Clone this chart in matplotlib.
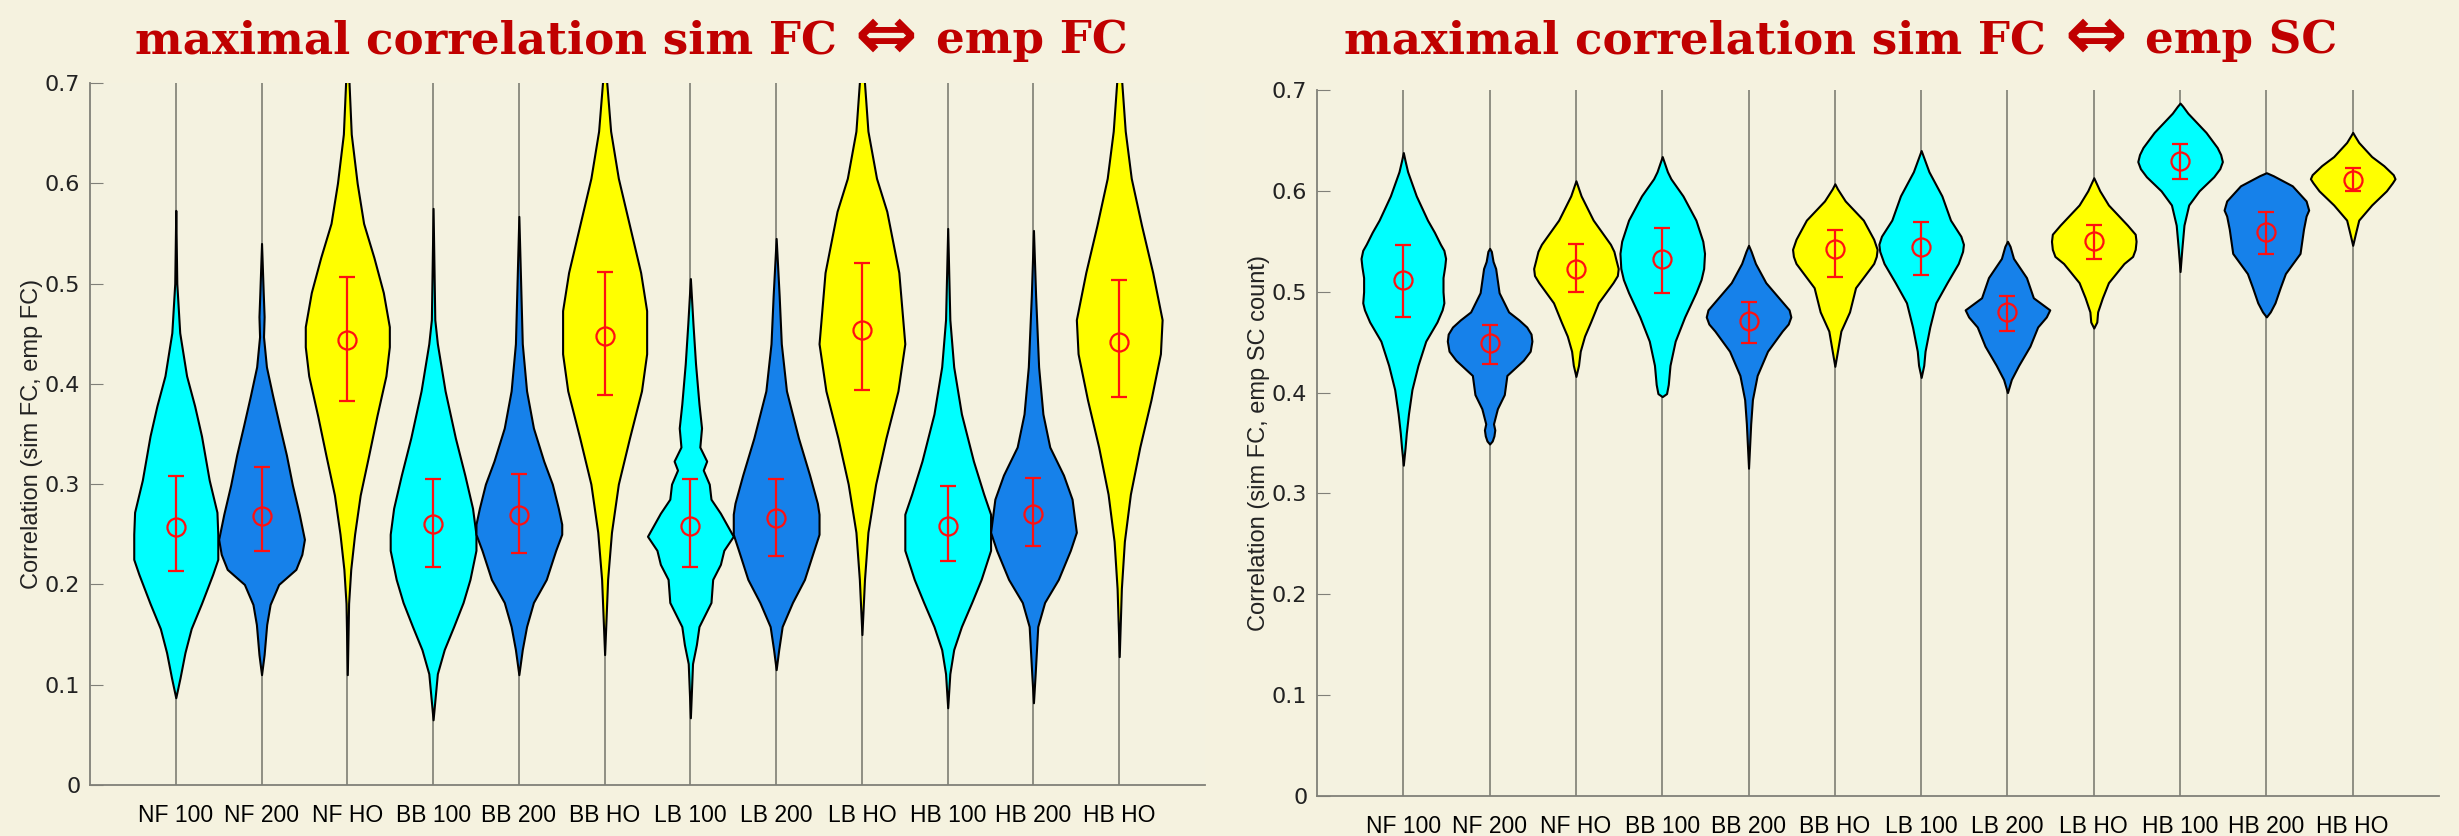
import numpy as np
import matplotlib
matplotlib.use("Agg")
import matplotlib.pyplot as plt

labels = ["NF 100", "NF 200", "NF HO", "BB 100", "BB 200", "BB HO",
          "LB 100", "LB 200", "LB HO", "HB 100", "HB 200", "HB HO"]
fill_cols = ["#00ffff", "#1681ea", "#ffff00"] * 4

##### sim FC <-> emp FC : violin outlines (y, half width in x units) #####
fc_y = [
    [0.087, 0.107, 0.132, 0.156, 0.181, 0.21, 0.225, 0.25, 0.272, 0.304, 0.348, 0.378, 0.408, 0.451, 0.50, 0.573],
    [0.11, 0.13, 0.16, 0.18, 0.20, 0.215, 0.23, 0.245, 0.27, 0.299, 0.329, 0.358, 0.388, 0.417, 0.447, 0.467, 0.49, 0.54],
    [0.11, 0.181, 0.215, 0.25, 0.289, 0.329, 0.368, 0.408, 0.437, 0.457, 0.491, 0.526, 0.56, 0.60, 0.649, 0.70, 0.72],
    [0.065, 0.111, 0.135, 0.158, 0.182, 0.205, 0.234, 0.25, 0.276, 0.309, 0.346, 0.393, 0.44, 0.464, 0.575],
    [0.11, 0.135, 0.158, 0.182, 0.205, 0.234, 0.25, 0.26, 0.276, 0.30, 0.323, 0.356, 0.393, 0.44, 0.567],
    [0.13, 0.205, 0.252, 0.30, 0.346, 0.393, 0.43, 0.473, 0.511, 0.558, 0.605, 0.652, 0.70, 0.72],
    [0.067, 0.121, 0.14, 0.158, 0.182, 0.205, 0.22, 0.234, 0.248, 0.271, 0.285, 0.30, 0.314, 0.323, 0.337, 0.356, 0.38, 0.42, 0.46, 0.505],
    [0.115, 0.135, 0.158, 0.182, 0.205, 0.229, 0.25, 0.27, 0.281, 0.309, 0.346, 0.393, 0.44, 0.488, 0.545],
    [0.15, 0.205, 0.252, 0.30, 0.346, 0.393, 0.44, 0.511, 0.572, 0.605, 0.652, 0.70, 0.72],
    [0.077, 0.111, 0.135, 0.158, 0.182, 0.205, 0.234, 0.27, 0.29, 0.323, 0.37, 0.417, 0.464, 0.555],
    [0.082, 0.111, 0.158, 0.182, 0.205, 0.234, 0.252, 0.285, 0.309, 0.337, 0.37, 0.417, 0.488, 0.553],
    [0.128, 0.196, 0.243, 0.29, 0.337, 0.384, 0.43, 0.464, 0.511, 0.558, 0.605, 0.652, 0.70, 0.72],
]
fc_w = [
    [0.0, 0.05, 0.107, 0.18, 0.30, 0.43, 0.49, 0.49, 0.48, 0.39, 0.30, 0.22, 0.126, 0.046, 0.012, 0.0],
    [0.0, 0.03, 0.06, 0.10, 0.20, 0.40, 0.47, 0.50, 0.44, 0.36, 0.29, 0.21, 0.13, 0.057, 0.023, 0.03, 0.02, 0.0],
    [0.0, 0.015, 0.04, 0.085, 0.15, 0.25, 0.345, 0.45, 0.49, 0.49, 0.42, 0.31, 0.19, 0.115, 0.046, 0.02, 0.012],
    [0.0, 0.05, 0.13, 0.24, 0.35, 0.43, 0.50, 0.50, 0.46, 0.37, 0.26, 0.14, 0.05, 0.02, 0.0],
    [0.0, 0.04, 0.09, 0.17, 0.32, 0.43, 0.50, 0.50, 0.46, 0.39, 0.29, 0.17, 0.09, 0.04, 0.0],
    [0.0, 0.035, 0.08, 0.16, 0.29, 0.43, 0.49, 0.49, 0.42, 0.29, 0.16, 0.07, 0.025, 0.015],
    [0.0, 0.025, 0.07, 0.10, 0.24, 0.26, 0.35, 0.39, 0.50, 0.35, 0.24, 0.22, 0.15, 0.19, 0.11, 0.13, 0.10, 0.06, 0.03, 0.0],
    [0.0, 0.03, 0.07, 0.19, 0.33, 0.42, 0.50, 0.50, 0.48, 0.39, 0.26, 0.12, 0.06, 0.035, 0.0],
    [0.0, 0.03, 0.07, 0.16, 0.28, 0.42, 0.50, 0.43, 0.29, 0.17, 0.07, 0.03, 0.015],
    [0.0, 0.025, 0.07, 0.16, 0.28, 0.39, 0.50, 0.50, 0.42, 0.30, 0.16, 0.07, 0.025, 0.0],
    [0.0, 0.02, 0.05, 0.13, 0.29, 0.43, 0.50, 0.45, 0.35, 0.19, 0.11, 0.06, 0.025, 0.0],
    [0.0, 0.025, 0.06, 0.13, 0.24, 0.37, 0.48, 0.50, 0.39, 0.26, 0.14, 0.07, 0.03, 0.015],
]
fc_mean = [0.257, 0.268, 0.444, 0.260, 0.269, 0.448, 0.258, 0.266, 0.454, 0.258, 0.270, 0.442]
fc_lo = [0.213, 0.233, 0.383, 0.217, 0.231, 0.389, 0.217, 0.228, 0.394, 0.223, 0.238, 0.387]
fc_hi = [0.308, 0.317, 0.507, 0.305, 0.310, 0.512, 0.305, 0.305, 0.521, 0.298, 0.306, 0.504]

##### sim FC <-> emp SC #####
sc_y = [
    [0.328, 0.345, 0.36, 0.379, 0.403, 0.427, 0.451, 0.47, 0.482, 0.489, 0.50, 0.514, 0.525, 0.533, 0.541, 0.547, 0.559, 0.571, 0.595, 0.619, 0.63, 0.638],
    [0.349, 0.352, 0.357, 0.363, 0.369, 0.384, 0.398, 0.417, 0.432, 0.441, 0.451, 0.458, 0.465, 0.472, 0.48, 0.499, 0.523, 0.53, 0.54, 0.543],
    [0.416, 0.427, 0.441, 0.456, 0.47, 0.489, 0.509, 0.516, 0.523, 0.533, 0.54, 0.547, 0.571, 0.595, 0.605, 0.61],
    [0.396, 0.399, 0.408, 0.427, 0.451, 0.475, 0.499, 0.512, 0.523, 0.538, 0.55, 0.571, 0.595, 0.612, 0.619, 0.629, 0.634],
    [0.325, 0.369, 0.393, 0.417, 0.441, 0.461, 0.468, 0.475, 0.482, 0.489, 0.509, 0.528, 0.54, 0.546],
    [0.426, 0.441, 0.461, 0.48, 0.504, 0.52, 0.528, 0.535, 0.542, 0.552, 0.571, 0.59, 0.602, 0.607],
    [0.415, 0.427, 0.441, 0.465, 0.489, 0.509, 0.528, 0.54, 0.547, 0.555, 0.571, 0.595, 0.619, 0.64],
    [0.40, 0.413, 0.427, 0.446, 0.465, 0.475, 0.482, 0.494, 0.514, 0.533, 0.545, 0.55],
    [0.464, 0.47, 0.48, 0.494, 0.509, 0.528, 0.535, 0.542, 0.55, 0.557, 0.566, 0.586, 0.60, 0.613],
    [0.52, 0.542, 0.566, 0.586, 0.60, 0.614, 0.622, 0.629, 0.636, 0.643, 0.658, 0.677, 0.684, 0.687],
    [0.475, 0.48, 0.489, 0.504, 0.518, 0.538, 0.562, 0.575, 0.581, 0.59, 0.605, 0.615, 0.618],
    [0.546, 0.557, 0.571, 0.586, 0.60, 0.608, 0.612, 0.616, 0.625, 0.634, 0.648, 0.655, 0.658],
]
sc_w = [
    [0.0, 0.02, 0.035, 0.06, 0.10, 0.17, 0.26, 0.39, 0.45, 0.47, 0.46, 0.46, 0.48, 0.49, 0.47, 0.43, 0.36, 0.28, 0.15, 0.05, 0.02, 0.0],
    [0.0, 0.03, 0.05, 0.06, 0.045, 0.09, 0.17, 0.20, 0.39, 0.47, 0.49, 0.48, 0.43, 0.34, 0.22, 0.11, 0.07, 0.04, 0.02, 0.0],
    [0.0, 0.03, 0.05, 0.10, 0.17, 0.26, 0.43, 0.48, 0.49, 0.46, 0.44, 0.40, 0.20, 0.06, 0.02, 0.0],
    [0.0, 0.05, 0.07, 0.09, 0.15, 0.26, 0.39, 0.45, 0.48, 0.49, 0.47, 0.39, 0.24, 0.10, 0.06, 0.02, 0.0],
    [0.0, 0.025, 0.045, 0.10, 0.22, 0.39, 0.46, 0.49, 0.47, 0.40, 0.20, 0.08, 0.03, 0.0],
    [0.0, 0.03, 0.07, 0.17, 0.24, 0.38, 0.45, 0.48, 0.49, 0.45, 0.33, 0.12, 0.03, 0.0],
    [0.0, 0.03, 0.045, 0.10, 0.17, 0.30, 0.43, 0.48, 0.49, 0.46, 0.34, 0.24, 0.09, 0.0],
    [0.0, 0.045, 0.13, 0.26, 0.35, 0.45, 0.49, 0.30, 0.22, 0.07, 0.03, 0.0],
    [0.0, 0.035, 0.045, 0.10, 0.17, 0.35, 0.45, 0.48, 0.49, 0.48, 0.39, 0.17, 0.07, 0.0],
    [0.0, 0.02, 0.045, 0.10, 0.22, 0.39, 0.46, 0.49, 0.47, 0.43, 0.30, 0.09, 0.03, 0.0],
    [0.0, 0.045, 0.10, 0.16, 0.22, 0.39, 0.43, 0.46, 0.49, 0.46, 0.30, 0.08, 0.0],
    [0.0, 0.03, 0.07, 0.22, 0.39, 0.46, 0.49, 0.47, 0.36, 0.22, 0.07, 0.02, 0.0],
]
sc_mean = [0.512, 0.449, 0.523, 0.532, 0.471, 0.542, 0.544, 0.480, 0.550, 0.630, 0.559, 0.611]
sc_lo = [0.475, 0.428, 0.500, 0.499, 0.449, 0.515, 0.517, 0.461, 0.532, 0.612, 0.537, 0.600]
sc_hi = [0.546, 0.467, 0.547, 0.563, 0.490, 0.561, 0.569, 0.496, 0.566, 0.646, 0.579, 0.623]

title_left = ["maximal correlation sim FC", "emp FC"]
title_right = ["maximal correlation sim FC", "emp SC"]
ylabels = ["Correlation (sim FC, emp FC)", "Correlation (sim FC, emp SC count)"]

W, H = 2459, 836
bg = "#f5f2df"
fig = plt.figure(figsize=(W / 100, H / 100), dpi=100, facecolor=bg)
ax1 = fig.add_axes([90/W, 1-785/H, 1115/W, 702/H])
ax2 = fig.add_axes([1317/W, 1-796/H, 1122/W, 706/H])


def draw_panel(ax, ys, ws, mean, lo, hi, ylab):
    ax.set_facecolor("#f4f2e0")
    pos = np.arange(1, len(labels) + 1)
    for p in pos:
        ax.axvline(p, color="#74746a", lw=1.1, zorder=1)
    for p, y, w, c in zip(pos, ys, ws, fill_cols):
        y = np.array(y)
        w = np.array(w)
        ax.fill_betweenx(y, p - w, p + w, facecolor=c, edgecolor="black", lw=1.5, zorder=2)
    m = np.array(mean)
    ax.errorbar(pos, m, yerr=[m - np.array(lo), np.array(hi) - m], fmt="o", ms=13,
                mfc="none", mec="#ff1010", mew=1.6, ecolor="#ff1010", elinewidth=1.6,
                capsize=6, capthick=1.6, zorder=3)
    ax.set_xlim(0, 13)
    ax.set_ylim(0, 0.7)
    ax.set_xticks(pos)
    ax.set_xticklabels(labels, fontsize=16.5, family="Liberation Sans")
    ax.set_yticks(np.arange(0, 0.71, 0.1))
    ax.set_yticklabels(["0"] + ["%.1f" % v for v in np.arange(0.1, 0.71, 0.1)], fontsize=16, color="#222222")
    ax.tick_params(axis="y", direction="in", length=9, color="#808078", pad=7)
    ax.tick_params(axis="x", length=0, pad=14)
    for s in ["top", "right"]:
        ax.spines[s].set_visible(False)
    for s in ["left", "bottom"]:
        ax.spines[s].set_color("#808078")
        ax.spines[s].set_linewidth(1.3)
    ax.set_ylabel(ylab, fontsize=17, family="Liberation Sans", color="#222222", labelpad=1)


draw_panel(ax1, fc_y, fc_w, fc_mean, fc_lo, fc_hi, ylabels[0])
draw_panel(ax2, sc_y, sc_w, sc_mean, sc_lo, sc_hi, ylabels[1])

# titles: text, big double arrow, text -- centred as a group
r = fig.canvas.get_renderer()
red = "#c00000"
gap = 18
for xc, parts in zip([631, 1841], [title_left, title_right]):
    yb = 1 - 53 / H
    t1 = fig.text(0, yb, parts[0], va="baseline", fontsize=32.5, fontweight="bold",
                  color=red, family="DejaVu Serif")
    ta = fig.text(0, yb - 6 / H, "\u21d4", va="baseline", fontsize=54, fontweight="bold",
                  color=red, family="DejaVu Sans")
    t2 = fig.text(0, yb, parts[1], va="baseline", fontsize=32.5, fontweight="bold",
                  color=red, family="DejaVu Serif")
    ws = [t.get_window_extent(r).width for t in (t1, ta, t2)]
    x = xc - (sum(ws) + 2 * gap) / 2
    for t, w in zip((t1, ta, t2), ws):
        t.set_x(x / W)
        x += w + gap

fig.savefig("out.png", dpi=100, facecolor=bg)
